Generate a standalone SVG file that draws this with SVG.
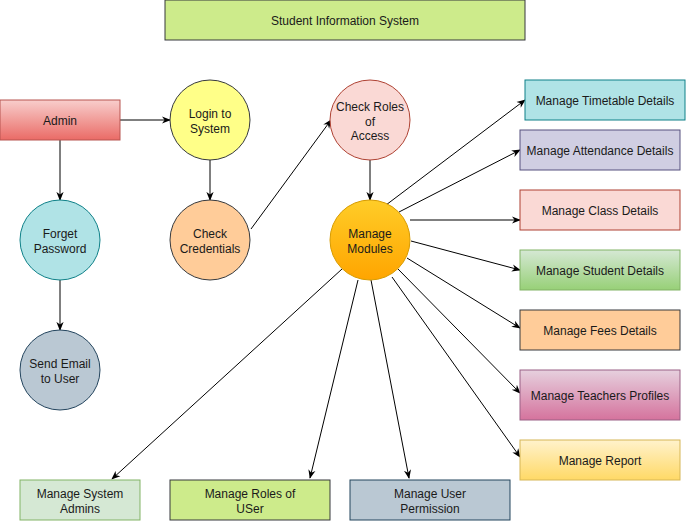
<svg xmlns="http://www.w3.org/2000/svg" width="686" height="521" viewBox="0 0 686 521">
<style>
text{font-family:"Liberation Sans",Arial,sans-serif;font-size:12px;fill:#1a1a1a;text-anchor:middle}
.c{stroke:#000;stroke-width:1;fill:none;marker-end:url(#arr)}
</style>
<defs>
<marker id="arr" viewBox="0 0 10 10" refX="9" refY="5" markerWidth="9" markerHeight="9" markerUnits="userSpaceOnUse" orient="auto">
<path d="M0,1 L10,5 L0,9 L3,5 z" fill="#000"/>
</marker>
<linearGradient id="gRed" x1="0" y1="0" x2="0" y2="1"><stop offset="0" stop-color="#f8cecc"/><stop offset="1" stop-color="#ea6b66"/></linearGradient>
<linearGradient id="gOr" x1="0" y1="0" x2="0" y2="1"><stop offset="0" stop-color="#ffcd28"/><stop offset="1" stop-color="#ffa500"/></linearGradient>
<linearGradient id="gGr" x1="0" y1="0" x2="0" y2="1"><stop offset="0" stop-color="#d5e8d4"/><stop offset="1" stop-color="#97d077"/></linearGradient>
<linearGradient id="gPk" x1="0" y1="0" x2="0" y2="1"><stop offset="0" stop-color="#e6d0de"/><stop offset="1" stop-color="#d5739d"/></linearGradient>
<linearGradient id="gYe" x1="0" y1="0" x2="0" y2="1"><stop offset="0" stop-color="#fff2cc"/><stop offset="1" stop-color="#ffd966"/></linearGradient>
</defs>

<g id="connectors">
<path class="c" d="M120,120 L170,120"/>
<path class="c" d="M60,140 L60,200"/>
<path class="c" d="M210,160 L210,200"/>
<path class="c" d="M60,280 L60,330"/>
<path class="c" d="M251,229 L331,120"/>
<path class="c" d="M370,160 L370,200"/>
<path class="c" d="M386,205 L525,100"/>
<path class="c" d="M399,212 L520,150"/>
<path class="c" d="M410,220 L520,220"/>
<path class="c" d="M411,241 L520,270"/>
<path class="c" d="M407,258 L520,328"/>
<path class="c" d="M398,269 L520,393"/>
<path class="c" d="M392,277 L520,457"/>
<path class="c" d="M371,280 L409,478"/>
<path class="c" d="M358,280 L310,478"/>
<path class="c" d="M342,269 L112,479"/>
</g>

<g id="title"><rect x="165" y="0" width="360" height="40" fill="#cdeb8b" stroke="#36393d"/><text x="345" y="25">Student Information System</text></g>

<g id="admin"><rect x="0" y="100" width="120" height="40" fill="url(#gRed)" stroke="#b85450"/><text x="60" y="125">Admin</text></g>
<g id="login"><circle cx="210" cy="120" r="40" fill="#ffff88" stroke="#36393d"/><text x="210" y="117.5">Login to</text><text x="210" y="132.5">System</text></g>
<g id="forget"><circle cx="60" cy="240" r="40" fill="#b0e3e6" stroke="#0e8088"/><text x="60" y="237.5">Forget</text><text x="60" y="252.5">Password</text></g>
<g id="credentials"><circle cx="210" cy="240" r="40" fill="#ffcc99" stroke="#36393d"/><text x="210" y="237.5">Check</text><text x="210" y="252.5">Credentials</text></g>
<g id="sendemail"><circle cx="60" cy="370" r="40" fill="#bac8d3" stroke="#23445d"/><text x="60" y="367.5">Send Email</text><text x="60" y="382.5">to User</text></g>
<g id="roles"><circle cx="370" cy="120" r="40" fill="#fad9d5" stroke="#ae4132"/><text x="370" y="110.5">Check Roles</text><text x="370" y="125.5">of</text><text x="370" y="140">Access</text></g>
<g id="modules"><circle cx="370" cy="240" r="40" fill="url(#gOr)" stroke="#d79b00"/><text x="370" y="237.5">Manage</text><text x="370" y="252.5">Modules</text></g>

<g id="timetable"><rect x="525" y="80" width="160" height="40" fill="#b0e3e6" stroke="#0e8088"/><text x="605" y="105">Manage Timetable Details</text></g>
<g id="attendance"><rect x="520" y="130" width="160" height="40" fill="#d0cee2" stroke="#56517e"/><text x="600" y="155">Manage Attendance Details</text></g>
<g id="class"><rect x="520" y="190" width="160" height="40" fill="#fad9d5" stroke="#ae4132"/><text x="600" y="215">Manage Class Details</text></g>
<g id="student"><rect x="520" y="250" width="160" height="40" fill="url(#gGr)" stroke="#82b366"/><text x="600" y="275">Manage Student Details</text></g>
<g id="fees"><rect x="520" y="310" width="160" height="40" fill="#ffcc99" stroke="#36393d"/><text x="600" y="335">Manage Fees Details</text></g>
<g id="teachers"><rect x="520" y="370" width="160" height="50" fill="url(#gPk)" stroke="#996185"/><text x="600" y="400">Manage Teachers Profiles</text></g>
<g id="report"><rect x="520" y="440" width="160" height="40" fill="url(#gYe)" stroke="#d6b656"/><text x="600" y="465">Manage Report</text></g>

<g id="sysadmins"><rect x="20" y="480" width="120" height="40" fill="#d5e8d4" stroke="#82b366"/><text x="80" y="497.5">Manage System</text><text x="80" y="512.5">Admins</text></g>
<g id="rolesuser"><rect x="170" y="480" width="160" height="40" fill="#cdeb8b" stroke="#36393d"/><text x="250" y="497.5">Manage Roles of</text><text x="250" y="512.5">USer</text></g>
<g id="permission"><rect x="350" y="480" width="160" height="40" fill="#bac8d3" stroke="#23445d"/><text x="430" y="497.5">Manage User</text><text x="430" y="512.5">Permission</text></g>
</svg>
